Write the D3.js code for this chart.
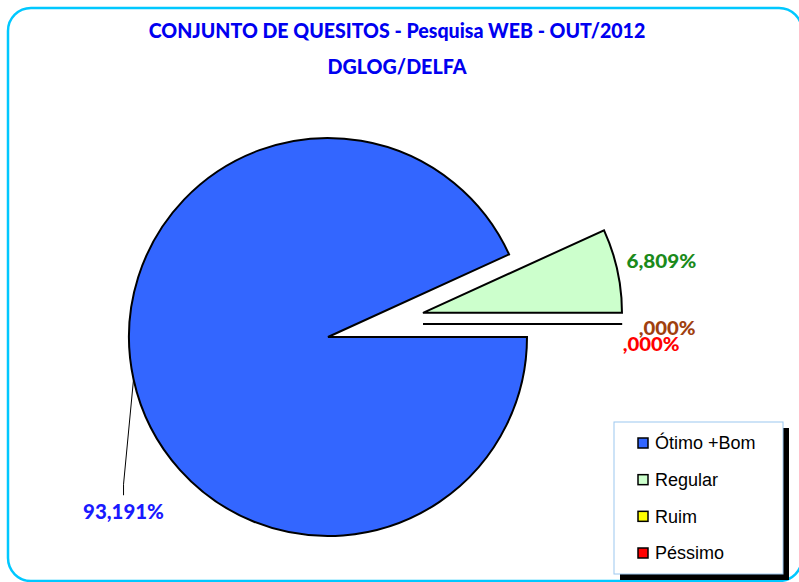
<!DOCTYPE html>
<html><head><meta charset="utf-8">
<script src="https://cdn.jsdelivr.net/npm/d3@7"></script>
<style>html,body{margin:0;padding:0;background:#fff;overflow:hidden}</style>
</head><body>
<script>
// ---- data ----
const titleLines = ["CONJUNTO DE QUESITOS - Pesquisa WEB - OUT/2012", "DGLOG/DELFA"];
const categories = ["Ótimo +Bom", "Regular", "Ruim", "Péssimo"];
const values = [93.191, 6.809, 0, 0];
const valueLabels = ["93,191%", "6,809%", ",000%", ",000%"];

// ---- styles ----
const fills = ["#3366FF", "#CCFFCC", "#FFFF00", "#FF0000"];
const labelColors = ["#1a1aff", "#1b8a1b", "#a0400e", "#ff0000"];
const W = 799, H = 582;
const cx = 328, cy = 337, R = 199;
const titleFont = "Lato, 'Open Sans', sans-serif";

const svg = d3.select("body").append("svg").attr("width", W).attr("height", H);

// outer rounded border
svg.append("rect").attr("x", 8).attr("y", 8).attr("width", 794).attr("height", 573)
  .attr("rx", 23).attr("fill", "#fff").attr("stroke", "#00c8ff").attr("stroke-width", 2.5);

// text with a given glyph size, horizontally condensed to a target width
function condensedText(parent, x, y, str, fs, target, color) {
  const s = parent.append("text").attr("x", 0).attr("y", 0).attr("text-anchor", "middle")
    .attr("font-family", titleFont).attr("font-weight", 900).attr("font-size", fs)
    .attr("fill", color).text(str);
  const w = s.node().getComputedTextLength();
  s.attr("transform", `translate(${x},${y}) scale(${target / w},1)`);
  return s;
}

// title
const tWidths = [497, 139];
const tY = [38, 74];
titleLines.forEach((t, i) => condensedText(svg, 397, tY[i], t, 21, tWidths[i], "#0000f0"));

// pie
const pie = d3.pie().sort(null).value(d => d).startAngle(Math.PI / 2).endAngle(Math.PI / 2 + 2 * Math.PI);
const arcs = pie(values);
const arc = d3.arc().innerRadius(0).outerRadius(R);
const explodeDist = [0, 98, 96, 96];
const explodeAngleShift = [0, -0.035, -0.137, -0.137];
function offset(d, i) {
  const a = (d.startAngle + d.endAngle) / 2 + explodeAngleShift[i];
  return [Math.sin(a) * explodeDist[i], -Math.cos(a) * explodeDist[i]];
}

const g = svg.append("g").attr("transform", `translate(${cx},${cy})`);
const slices = g.selectAll("g.slice").data(arcs).join("g").attr("class", "slice")
  .attr("transform", (d, i) => { const o = offset(d, i); return `translate(${o[0]},${o[1]})`; });
slices.append("path").attr("d", arc).attr("fill", (d, i) => fills[i])
  .attr("stroke", "#000").attr("stroke-width", 2).attr("stroke-linejoin", "miter");

// data labels
const labelSizes = [20.5, 18.5, 19, 19];
const labelWidths = [81, 70, 57, 57];
arcs.forEach((d, i) => {
  const o = offset(d, i);
  const a = (d.startAngle + d.endAngle) / 2;
  let x, y;
  if (i === 0) {
    // leader line from arc at bisector to label below-left
    const px = cx + Math.sin(a) * R, py = cy - Math.cos(a) * R;
    const lx = px - 10, ly = py + 105;
    svg.append("path").attr("d", d3.line()([[px, py], [lx, ly], [lx, ly + 11]]))
      .attr("fill", "none").attr("stroke", "#000").attr("stroke-width", 1);
    x = lx; y = ly + 35;
  } else {
    const r = 244;
    x = cx + o[0] + Math.sin(a) * r;
    y = cy + o[1] - Math.cos(a) * r + 7;
    if (i === 2) { y += 4; }
    if (i === 3) { x -= 16; y += 20; }
  }
  condensedText(svg, x, y, valueLabels[i], labelSizes[i], labelWidths[i], labelColors[i]);
});

// legend
const lg = svg.append("g");
lg.append("rect").attr("x", 620).attr("y", 428).attr("width", 169).attr("height", 152).attr("fill", "#000");
lg.append("rect").attr("x", 614).attr("y", 422).attr("width", 169).attr("height", 152)
  .attr("fill", "#fff").attr("stroke", "#9cc8f0").attr("stroke-width", 1);
const ly = d3.scalePoint().domain(categories).range([443, 553]);
const items = lg.selectAll("g.item").data(categories).join("g").attr("class", "item")
  .attr("transform", d => `translate(638,${ly(d)})`);
items.append("rect").attr("x", 0).attr("y", -5).attr("width", 10).attr("height", 10)
  .attr("fill", (d, i) => fills[i]).attr("stroke", "#000").attr("stroke-width", 1.5);
items.append("text").attr("x", 17).attr("y", 0).attr("dy", "0.36em")
  .attr("font-family", "'Liberation Sans', Arial, sans-serif").attr("font-size", 18)
  .attr("fill", "#000").text(d => d);
</script>
</body></html>
